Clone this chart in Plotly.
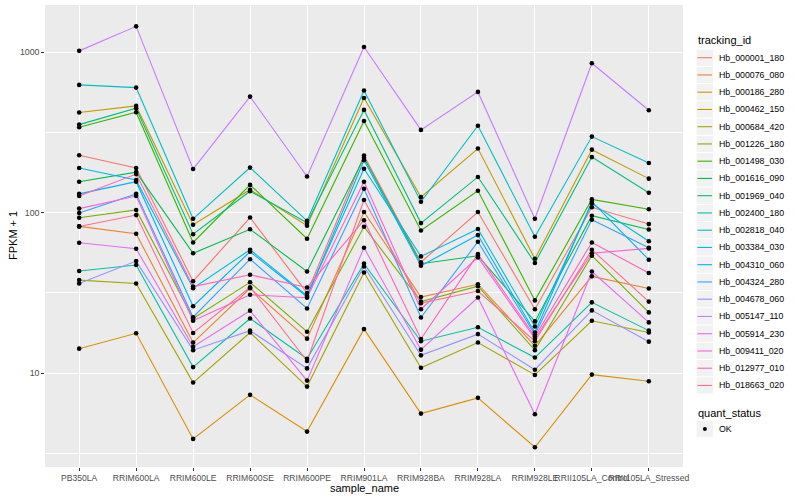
import plotly.graph_objects as go

categories = ["PB350LA", "RRIM600LA", "RRIM600LE", "RRIM600SE", "RRIM600PE", "RRIM901LA",
              "RRIM928BA", "RRIM928LA", "RRIM928LE", "RRII105LA_Control", "RRII105LA_Stressed"]

tracking_ids = ["Hb_000001_180", "Hb_000076_080", "Hb_000186_280", "Hb_000462_150", "Hb_000684_420",
                "Hb_001226_180", "Hb_001498_030", "Hb_001616_090", "Hb_001969_040", "Hb_002400_180",
                "Hb_002818_040", "Hb_003384_030", "Hb_004310_060", "Hb_004324_280", "Hb_004678_060",
                "Hb_005147_110", "Hb_005914_230", "Hb_009411_020", "Hb_012977_010", "Hb_018663_020"]

colors = ["#F8766D", "#EA8331", "#D89000", "#C09B00", "#A3A500", "#7CAE00", "#39B600", "#00BB4E",
          "#00BF7D", "#00C1A3", "#00BFC4", "#00BAE0", "#00B0F6", "#35A2FF", "#9590FF", "#C77CFF",
          "#E76BF3", "#FA62DB", "#FF62BC", "#FF6C91"]

# FPKM + 1 per sample, in category order
hb_000001_180 = [228, 190, 37.4, 93.3, 31.6, 227, 49.1, 101, 25.0, 108, 84.9]
hb_000076_080 = [82.1, 73.9, 15.5, 33.8, 16.4, 101, 29.8, 35.8, 14.8, 40.1, 33.7]
hb_000186_280 = [14.2, 17.7, 3.89, 7.32, 4.32, 18.8, 5.59, 7.01, 3.45, 9.79, 8.89]
hb_000462_150 = [421, 463, 84.1, 139, 82.9, 519, 125, 251, 51.6, 247, 163]
hb_000684_420 = [38.0, 36.2, 8.73, 17.9, 8.24, 42.4, 10.8, 15.5, 9.74, 21.2, 17.9]
hb_001226_180 = [92.9, 104, 21.9, 36.8, 18.1, 81.7, 27.9, 34.8, 13.9, 53.9, 23.9]
hb_001498_030 = [341, 423, 65.2, 149, 68.8, 373, 77.5, 137, 28.4, 121, 105]
hb_001616_090 = [156, 179, 55.9, 78.8, 43.0, 220, 48.1, 53.9, 21.0, 95.7, 78.6]
hb_001969_040 = [354, 448, 73.4, 136, 86.5, 437, 86.1, 167, 48.6, 222, 133]
hb_002400_180 = [43.3, 47.2, 10.9, 21.9, 12.3, 48.1, 15.8, 19.3, 12.5, 27.6, 18.4]
hb_002818_040 = [626, 602, 91.6, 191, 89.0, 577, 117, 348, 70.8, 298, 204]
hb_003384_030 = [190, 160, 33.8, 58.7, 30.4, 188, 53.4, 79.1, 19.5, 114, 66.3]
hb_004310_060 = [131, 156, 26.1, 57.1, 29.9, 212, 46.7, 72.5, 17.9, 117, 50.9]
hb_004324_280 = [99.4, 131, 22.3, 51.3, 25.3, 141, 22.2, 65.9, 17.4, 90.3, 60.4]
hb_004678_060 = [36.2, 49.9, 13.9, 18.4, 10.7, 46.2, 12.9, 17.5, 10.5, 24.6, 15.7]
hb_005147_110 = [1020, 1450, 187, 529, 168, 1079, 328, 566, 91.6, 854, 435]
hb_005914_230 = [64.9, 59.6, 14.6, 24.5, 8.98, 60.4, 14.0, 29.6, 5.54, 43.0, 20.7]
hb_009411_020 = [106, 127, 21.2, 30.8, 29.5, 156, 25.0, 52.6, 16.4, 55.9, 59.9]
hb_012977_010 = [127, 174, 34.6, 41.0, 34.2, 89.7, 16.3, 55.2, 16.9, 65.2, 42.1]
hb_018663_020 = [82.1, 96.6, 17.8, 34.3, 11.9, 120, 27.3, 32.5, 15.8, 58.7, 27.9]

series = [hb_000001_180, hb_000076_080, hb_000186_280, hb_000462_150, hb_000684_420,
          hb_001226_180, hb_001498_030, hb_001616_090, hb_001969_040, hb_002400_180,
          hb_002818_040, hb_003384_030, hb_004310_060, hb_004324_280, hb_004678_060,
          hb_005147_110, hb_005914_230, hb_009411_020, hb_012977_010, hb_018663_020]

quant_status = ["OK"]

FONT = "Liberation Sans, Arial, sans-serif"
W, H = 800, 500
ML, MR, MT, MB = 45, 117, 5, 33
PW, PH = W - ML - MR, H - MT - MB


def px(x):
    return (x - ML) / PW


def py(y):
    return (H - MB - y) / PH


fig = go.Figure()
for name, col, vals in zip(tracking_ids, colors, series):
    fig.add_trace(go.Scatter(x=categories, y=vals, mode="lines", name=name,
                             line=dict(color=col, width=1.1), showlegend=False))

all_x, all_y = [], []
for vals in series:
    all_x += categories
    all_y += vals
fig.add_trace(go.Scatter(x=all_x, y=all_y, mode="markers", name="OK",
                         marker=dict(color="black", size=4.6, symbol="circle"),
                         showlegend=False))

shapes = []
annotations = []
# manual ggplot-like legend
annotations.append(dict(text="tracking_id", x=px(696), y=py(40), xref="paper", yref="paper",
                        xanchor="left", yanchor="middle", showarrow=False,
                        font=dict(family=FONT, size=11, color="black")))
y0, step = 57.7, 17.25
for i, (name, col) in enumerate(zip(tracking_ids, colors)):
    yc = y0 + step * i
    shapes.append(dict(type="rect", xref="paper", yref="paper", x0=px(696.5), x1=px(713),
                       y0=py(yc - 8.1), y1=py(yc + 8.1), fillcolor="#F2F2F2", line=dict(width=0),
                       layer="below"))
    shapes.append(dict(type="line", xref="paper", yref="paper", x0=px(697.5), x1=px(712),
                       y0=py(yc), y1=py(yc), line=dict(color=col, width=1.1)))
    annotations.append(dict(text=name, x=px(716.5), y=py(yc), xref="paper", yref="paper",
                            xanchor="left", yanchor="middle", showarrow=False,
                            font=dict(family=FONT, size=8.8, color="black")))

annotations.append(dict(text="quant_status", x=px(696), y=py(412.7), xref="paper", yref="paper",
                        xanchor="left", yanchor="middle", showarrow=False,
                        font=dict(family=FONT, size=11, color="black")))
yc = 429
shapes.append(dict(type="rect", xref="paper", yref="paper", x0=px(696.5), x1=px(713),
                   y0=py(yc - 8.1), y1=py(yc + 8.1), fillcolor="#F2F2F2", line=dict(width=0),
                   layer="below"))
shapes.append(dict(type="circle", xref="paper", yref="paper", x0=px(702.9), x1=px(706.9),
                   y0=py(yc - 2), y1=py(yc + 2), fillcolor="black", line=dict(width=0)))
annotations.append(dict(text=quant_status[0], x=px(716.5), y=py(yc), xref="paper", yref="paper",
                        xanchor="left", yanchor="middle", showarrow=False,
                        font=dict(family=FONT, size=8.8, color="black")))

# axis titles
annotations.append(dict(text="sample_name", x=px(364), y=py(488), xref="paper", yref="paper",
                        xanchor="center", yanchor="middle", showarrow=False,
                        font=dict(family=FONT, size=11, color="black")))
annotations.append(dict(text="FPKM + 1", x=px(13), y=py(236), xref="paper", yref="paper",
                        xanchor="center", yanchor="middle", showarrow=False, textangle=-90,
                        font=dict(family=FONT, size=11, color="black")))

fig.update_layout(
    width=W, height=H,
    margin=dict(l=ML, r=MR, t=MT, b=MB, autoexpand=False),
    paper_bgcolor="white", plot_bgcolor="#EBEBEB",
    showlegend=False,
    font=dict(family=FONT, size=8.8, color="#4D4D4D"),
    shapes=shapes, annotations=annotations,
    xaxis=dict(type="category", categoryorder="array", categoryarray=categories,
               range=[-0.6, 10.6], showgrid=True, gridcolor="white", gridwidth=1.1,
               ticks="outside", ticklen=2.75, tickwidth=1.1, tickcolor="#333333",
               tickangle=0, tickfont=dict(family=FONT, size=8.6, color="#4D4D4D"),
               zeroline=False, showline=False, automargin=False),
    yaxis=dict(type="log", range=[0.4147, 3.2945],
               tickvals=[10, 100, 1000], ticktext=["10", "100", "1000"],
               showgrid=True, gridcolor="white", gridwidth=1.1,
               minor=dict(tickvals=[3.1623, 31.623, 316.23], showgrid=True,
                          gridcolor="white", gridwidth=0.55, ticks=""),
               ticks="outside", ticklen=2.75, tickwidth=1.1, tickcolor="#333333",
               tickfont=dict(family=FONT, size=8.8, color="#4D4D4D"),
               zeroline=False, showline=False, automargin=False),
)

fig.write_html("out.html", config={"displayModeBar": False},
               post_script="document.body.style.margin='0px';document.body.style.overflow='hidden';")
